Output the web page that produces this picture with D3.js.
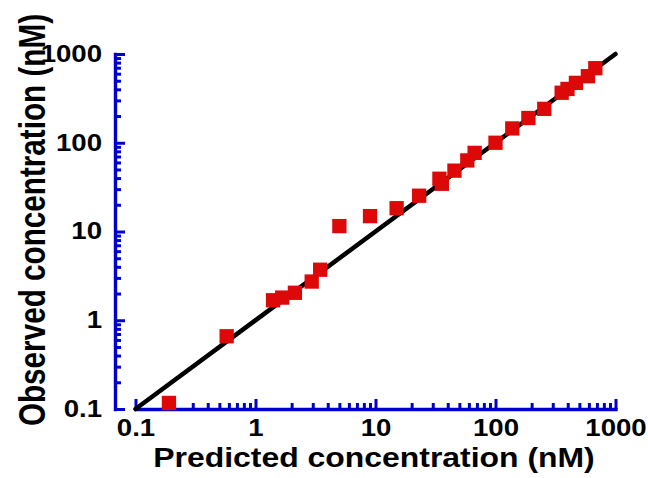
<!DOCTYPE html>
<html>
<head>
<meta charset="utf-8">
<script src="https://cdn.jsdelivr.net/npm/d3@7"></script>
<style>
  body { margin: 0; background: #fff; }
  text { font-family: "Liberation Sans", Arial, sans-serif; font-weight: bold; fill: #000; }
</style>
</head>
<body>
<div id="chart"></div>
<script>
// values (nM)
const predicted = [0.19, 0.575, 1.40, 1.67, 2.13, 2.94, 3.46, 5.0, 9.0, 15.0, 23.1, 34.1, 35.7, 45.5, 58.2, 67.0, 100, 138, 188, 255, 356, 398, 468, 589, 679];
const observed  = [0.117, 0.66, 1.68, 1.80, 2.04, 2.73, 3.71, 11.5, 14.9, 18.3, 25.3, 39.3, 34.5, 48.5, 63.2, 76.9, 100, 145, 190, 241, 366, 404, 473, 562, 692];
const tickValues = [0.1, 1, 10, 100, 1000];
const tickLabels = ["0.1", "1", "10", "100", "1000"];
const identityLine = [0.1, 1000];

const width = 648, height = 478;
const axisColor = "#0000cc";
const labelStretch = 1.2;   // the picture's text is wider than plain Arial

const svg = d3.select("#chart").append("svg")
    .attr("width", width)
    .attr("height", height);

const x = d3.scaleLog().domain([0.1, 1000]).range([135.5, 615.5]);
const y = d3.scaleLog().domain([0.1, 1000]).range([409, 54]);

// minor ticks 2..9 in each decade
const minorTicks = tickValues.slice(0, -1).flatMap(d => d3.range(2, 10).map(k => k * d));

function styleAxis(g) {
    g.select(".domain").attr("stroke", axisColor).attr("stroke-width", 3.4).attr("stroke-linecap", "square");
    g.selectAll(".tick line").attr("stroke", axisColor).attr("stroke-width", 3);
    g.selectAll(".tick text").style("font-size", "23px");
}

// Y axis (offset to the left of the data area)
const yAxisG = svg.append("g")
    .attr("transform", "translate(115,0)")
    .call(d3.axisLeft(y).tickValues(tickValues).tickFormat((d, i) => tickLabels[i])
        .tickSize(-10).tickSizeOuter(0).tickPadding(13))
    .call(styleAxis);
yAxisG.selectAll(".tick text")
    .attr("x", -13 / labelStretch)
    .attr("transform", `scale(${labelStretch},1)`);

svg.append("g")
    .attr("transform", "translate(115,0)")
    .call(d3.axisLeft(y).tickValues(minorTicks).tickFormat("").tickSize(-6).tickSizeOuter(0))
    .call(g => g.select(".domain").remove())
    .call(styleAxis);

// X axis
const xAxisG = svg.append("g")
    .attr("transform", `translate(0,${y(0.1)})`)
    .call(d3.axisBottom(x).tickValues(tickValues).tickFormat((d, i) => tickLabels[i])
        .tickSize(-10).tickSizeOuter(0).tickPadding(11))
    .call(styleAxis);
xAxisG.selectAll(".tick text")
    .attr("transform", `scale(${labelStretch},1)`);

svg.append("g")
    .attr("transform", `translate(0,${y(0.1)})`)
    .call(d3.axisBottom(x).tickValues(minorTicks).tickFormat("").tickSize(-6).tickSizeOuter(0))
    .call(g => g.select(".domain").remove())
    .call(styleAxis);

// identity line
svg.append("line")
    .attr("x1", x(identityLine[0])).attr("y1", y(identityLine[0]))
    .attr("x2", x(identityLine[1])).attr("y2", y(identityLine[1]))
    .attr("stroke", "#000")
    .attr("stroke-width", 4.5)
    .attr("stroke-linecap", "round");

// points
const size = 14.3;
svg.append("g")
    .selectAll("rect")
    .data(predicted.map((p, i) => ({ p, o: observed[i] })))
    .enter()
    .append("rect")
    .attr("x", d => x(d.p) - size / 2)
    .attr("y", d => y(d.o) - size / 2)
    .attr("width", size)
    .attr("height", size)
    .attr("fill", "#dd0808");

// axis titles
svg.append("g")
    .attr("transform", "translate(374,467)")
    .append("text")
    .attr("text-anchor", "middle")
    .attr("transform", "scale(1.14,1)")
    .style("font-size", "28px")
    .text("Predicted concentration (nM)");

svg.append("g")
    .attr("transform", "translate(45,220) rotate(-90)")
    .append("text")
    .attr("text-anchor", "middle")
    .attr("transform", "scale(1.06,1.3)")
    .style("font-size", "28px")
    .text("Observed concentration (nM)");
</script>
</body>
</html>
